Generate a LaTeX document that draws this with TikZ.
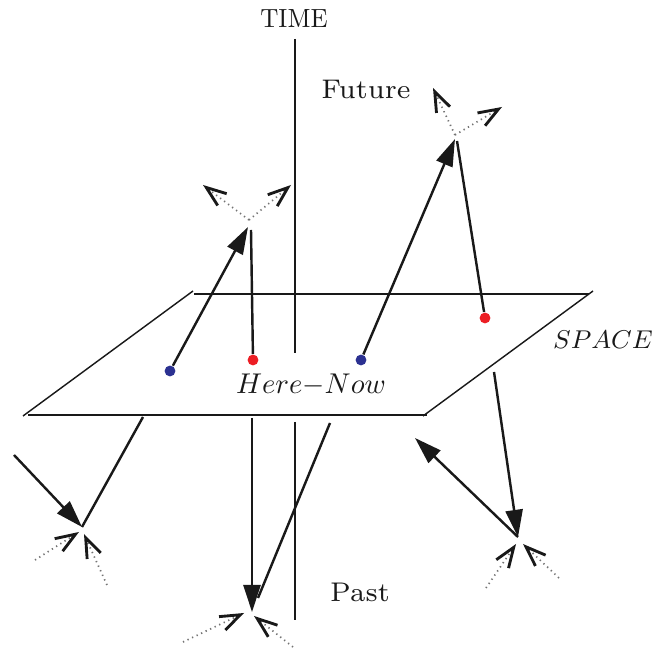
\documentclass[tikz,border=0pt]{standalone}
\usetikzlibrary{arrows.meta}
\definecolor{dotblue}{RGB}{43,49,145}
\definecolor{dotred}{RGB}{236,30,36}
\newcommand\cmlabel[1]{\scalebox{1.35}[1.35]{\fontsize{7}{8}\selectfont #1}}
\tikzset{
  edge/.style={line width=0.5pt, black!90},
  axis/.style={line width=0.5pt, black!90},
  world/.style={line width=0.85pt, black!90},
  fwd/.style={world, -{Triangle[length=9.5pt,width=6pt]}},
  cone/.style={line width=0.6pt, black!55, dash pattern=on 0.45pt off 1.3pt,
    -{Straight Barb[length=7pt,width=5.2pt,line width=1pt]}, arrows={[black!90]}},
  ev/.style={circle, inner sep=0pt, minimum size=3.8pt},
  lbl/.style={inner sep=0pt, text=black!90}
}
\begin{document}
\begin{tikzpicture}[x=0.35pt,y=-0.35pt]
\useasboundingbox (0,0) rectangle (660,650);
% ---- time axis
\coordinate (t1) at (295,39);
\coordinate (t2) at (295,353);
\coordinate (t3) at (295,422);
\coordinate (t4) at (295,620);
\draw[axis] (t1) -- (t2);
\draw[axis] (t3) -- (t4);
% ---- plane
\coordinate (pTL) at (193,291);
\coordinate (pTLb) at (194,294);
\coordinate (pTR) at (593,291);
\coordinate (pTRb) at (589,294);
\coordinate (pBL) at (23,416);
\coordinate (pBLb) at (28,415);
\coordinate (pBR) at (423,416);
\coordinate (pBRb) at (427,415);
\draw[edge] (pTLb) -- (pTRb);
\draw[edge] (pTL) -- (pBL);
\draw[edge] (pBLb) -- (pBRb);
\draw[edge] (pTR) -- (pBR);
% ---- labels
\node[lbl] (time) at (294,19) {\scalebox{0.93}[1]{\fontsize{9.2}{11}\selectfont TIME}};
\node[lbl] (future) at (366,89) {\cmlabel{Future}};
\node[lbl] (past) at (360,592) {\cmlabel{Past}};
\node[lbl] (here) at (311,385) {\fontsize{9.6}{11}\selectfont$Here{-}Now$};
\node[lbl] (space) at (603,340) {\fontsize{9}{11}\selectfont$SPACE$};
% ---- events on the plane
\node[ev, fill=dotblue] (b1) at (170,371) {};
\node[ev, fill=dotred]  (r1) at (253,360) {};
\node[ev, fill=dotblue] (b2) at (361,360) {};
\node[ev, fill=dotred]  (r2) at (485,318) {};
% ---- upper-left future cone
\coordinate (a1) at (249,220);
\coordinate (a1in) at (248,227);
\coordinate (a1r) at (251,230);
\coordinate (a1L) at (203,185);
\coordinate (a1R) at (291,185);
\draw[fwd] (b1) -- (a1in);
\draw[world] (r1) -- (a1r);
\draw[cone] (a1) -- (a1L);
\draw[cone] (a1) -- (a1R);
% ---- upper-right future cone
\coordinate (a2) at (455,135);
\coordinate (a2in) at (455,139);
\coordinate (a2r) at (457,141);
\coordinate (a2L) at (433,88);
\coordinate (a2R) at (502,107);
\draw[fwd] (b2) -- (a2in);
\draw[world] (r2) -- (a2r);
\draw[cone] (a2) -- (a2L);
\draw[cone] (a2) -- (a2R);
% ---- lower-left past cone
\coordinate (c1) at (82,527);
\coordinate (c1s) at (14,455);
\coordinate (c1p) at (143,417);
\coordinate (c1A) at (35,560);
\coordinate (c1At) at (79,532);
\coordinate (c1B) at (107,585);
\coordinate (c1Bt) at (84,534);
\draw[fwd] (c1s) -- (c1);
\draw[world] (c1p) -- (c1);
\draw[cone] (c1A) -- (c1At);
\draw[cone] (c1B) -- (c1Bt);
% ---- lower-middle past cone
\coordinate (c2) at (252,612);
\coordinate (c2s) at (252,418);
\coordinate (c2p) at (330,423);
\coordinate (c2pe) at (258,598);
\coordinate (c2A) at (183,642);
\coordinate (c2At) at (244,613);
\coordinate (c2B) at (293,647);
\coordinate (c2Bt) at (254,616);
\draw[fwd] (c2s) -- (c2);
\draw[world] (c2p) -- (c2pe);
\draw[cone] (c2A) -- (c2At);
\draw[cone] (c2B) -- (c2Bt);
% ---- lower-right past cone
\coordinate (c3) at (518,537);
\coordinate (c3s) at (494,372);
\coordinate (c3e) at (415,438);
\coordinate (c3A) at (486,588);
\coordinate (c3At) at (516,544);
\coordinate (c3B) at (559,578);
\coordinate (c3Bt) at (523,544);
\draw[fwd] (c3s) -- (c3);
\draw[fwd] (c3) -- (c3e);
\draw[cone] (c3A) -- (c3At);
\draw[cone] (c3B) -- (c3Bt);
\end{tikzpicture}
\end{document}
